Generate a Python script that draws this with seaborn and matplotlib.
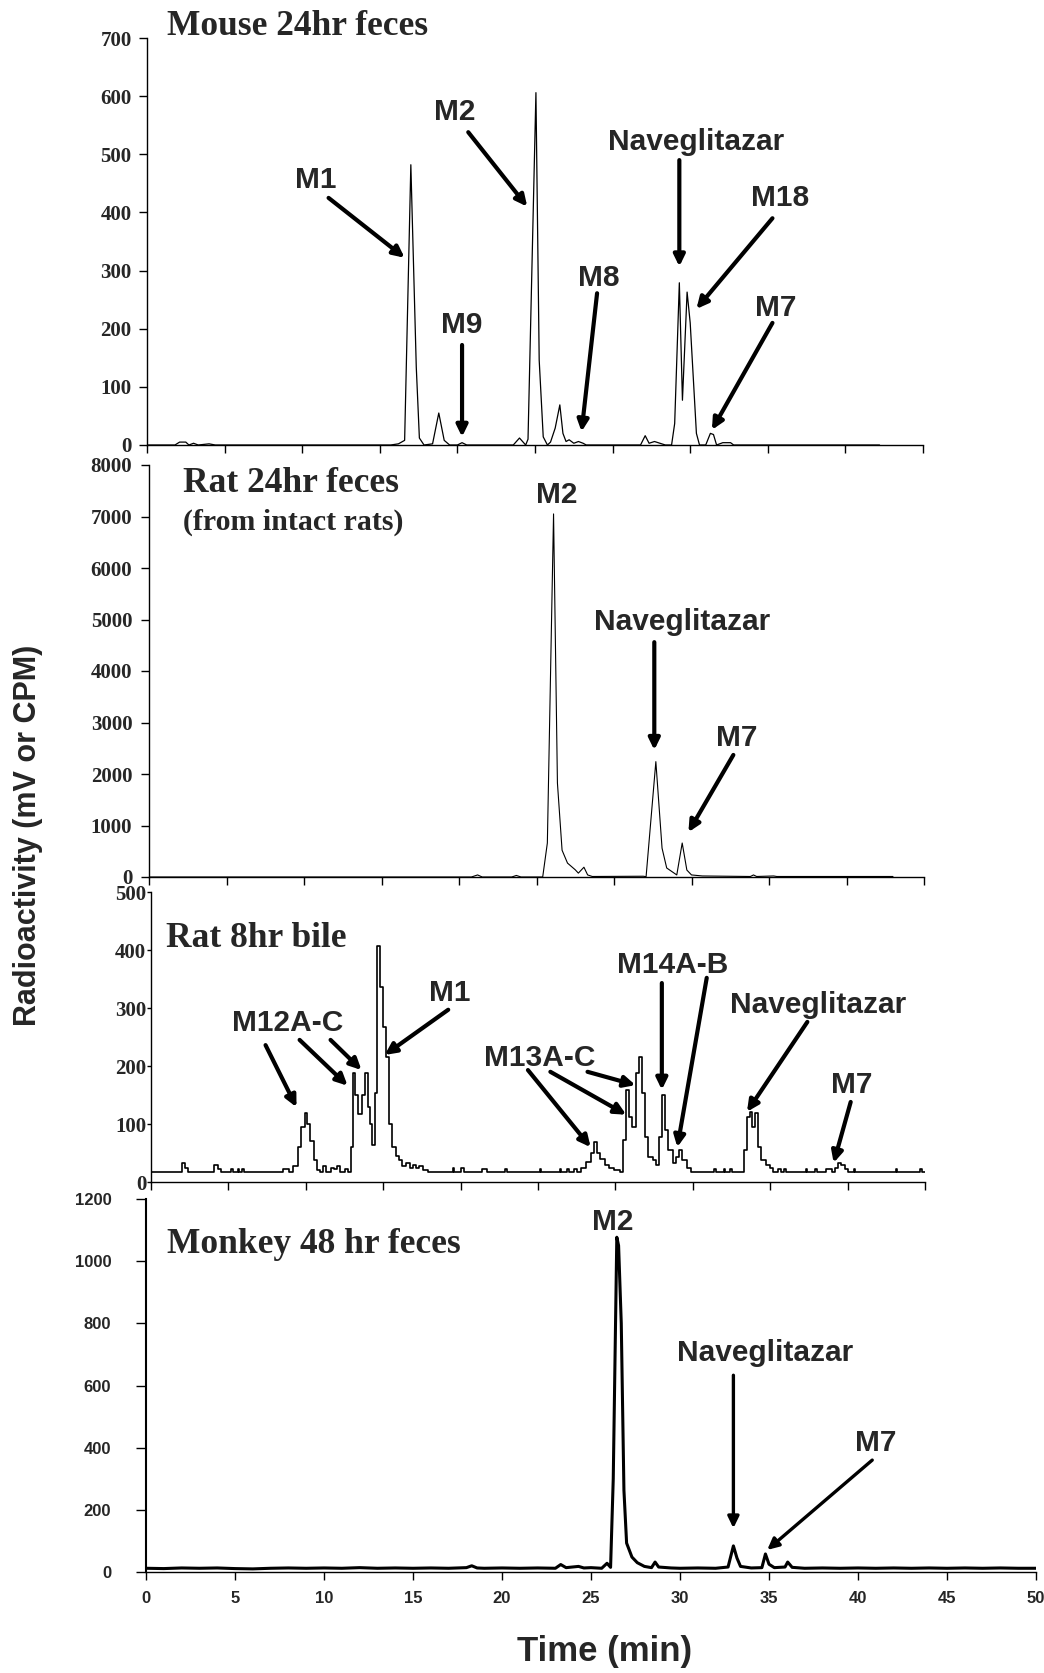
import matplotlib
matplotlib.use("Agg")
import matplotlib.pyplot as plt
import seaborn as sns

# --- data (time in min, radioactivity) ---
mouse_t = [0, 1.8, 2.1, 2.5, 2.7, 3.0, 3.3, 4.0, 4.4,
           15.7, 16.2, 16.6, 17.0, 17.35, 17.55, 17.85,
           18.4, 18.8, 19.15, 19.5, 20.0, 20.3, 20.6,
           23.6, 24.0, 24.4, 24.55, 25.06, 25.27, 25.53, 25.8,
           26.0, 26.3, 26.6, 26.8, 27.0, 27.2, 27.5, 27.8, 28.1, 28.3,
           31.8, 32.1, 32.35, 32.7, 33.05, 33.4,
           33.8, 34.0, 34.3, 34.5, 34.8, 35.0, 35.4, 35.6,
           36.0, 36.3, 36.5, 36.7, 37.1, 37.6, 37.8, 47.2]
mouse_v = [0, 0, 5, 5, 0, 3, 0, 2, 0,
           0, 2, 8, 482, 134, 12, 0,
           2, 55, 8, 0, 0, 4, 0,
           0, 12, 0, 10, 606, 146, 14, 0,
           5, 29, 69, 20, 6, 9, 3, 6, 3, 0,
           0, 16, 3, 6, 3, 0,
           0, 37, 279, 77, 263, 210, 20, 0,
           0, 20, 18, 0, 4, 4, 0, 0]

rat_t = [0, 20.8, 21.2, 21.5, 23.4, 23.7, 24.0,
         25.4, 25.7, 26.1, 26.35, 26.65, 27.0, 27.5, 27.7,
         28.06, 28.3, 28.6, 31.9, 32.07, 32.7, 33.1, 33.4,
         34.05, 34.4, 34.7, 35.0, 35.7, 38.8, 39.0, 39.2, 40.3, 40.5, 48.0]
rat_v = [0, 0, 40, 0, 0, 30, 0,
         0, 660, 7050, 1825, 520, 270, 140, 75,
         190, 40, 10, 15, 5, 2240, 560, 175,
         40, 660, 135, 40, 20, 10, 40, 10, 20, 10, 10]

bile_t = [0, 1.8, 2.0, 2.2, 2.4, 4.0, 4.1, 4.3, 4.5, 5.2,
          5.3, 5.6, 5.7, 5.9, 6.0, 8.3, 8.5, 8.9, 9.2, 9.5,
          9.7, 9.95, 10.1, 10.3, 10.5, 10.7, 10.9, 11.1, 11.3, 11.6,
          11.8, 12.0, 12.2, 12.5, 12.7, 12.9, 13.05, 13.2, 13.4, 13.6,
          13.8, 14.0, 14.15, 14.3, 14.45, 14.6, 14.8, 15.0, 15.2, 15.4,
          15.6, 15.8, 16.0, 16.2, 16.5, 16.7, 16.9, 17.1, 17.3, 17.6,
          17.9, 19.4, 19.5, 19.6, 20.0, 20.2, 21.4, 21.7, 22.9, 23.0,
          25.0, 25.1, 25.2, 26.4, 26.5, 26.9, 27.0, 27.3, 27.5, 27.8,
          28.1, 28.4, 28.6, 28.8, 29.0, 29.3, 29.6, 29.9, 30.3, 30.5,
          30.7, 30.9, 31.1, 31.3, 31.5, 31.7, 31.9, 32.1, 32.4, 32.6,
          32.8, 33.0, 33.2, 33.4, 33.7, 33.9, 34.1, 34.3, 34.6, 34.9,
          36.3, 36.4, 36.5, 37.0, 37.1, 37.4, 37.5, 38.1, 38.3, 38.5,
          38.7, 38.85, 39.0, 39.2, 39.4, 39.7, 40.0, 40.2, 40.5, 40.7,
          40.9, 41.0, 42.3, 42.4, 42.9, 43.0, 43.6, 43.8, 44.0, 44.2,
          44.4, 44.6, 44.8, 45.0, 45.4, 45.5, 48.1, 48.2, 49.7, 49.8,
          50.0]
bile_v = [17, 17, 33, 25, 17, 17, 30, 22, 17, 22,
          17, 22, 17, 22, 17, 17, 22, 17, 28, 60,
          95, 119, 100, 70, 38, 20, 17, 27, 17, 25,
          22, 27, 17, 22, 17, 60, 188, 150, 118, 150,
          188, 130, 100, 63, 153, 407, 336, 267, 215, 100,
          60, 45, 38, 28, 32, 25, 30, 24, 28, 20,
          17, 17, 25, 17, 25, 17, 22, 17, 22, 17,
          17, 22, 17, 22, 17, 22, 17, 22, 17, 25,
          35, 50, 69, 50, 40, 30, 25, 20, 17, 72,
          159, 112, 95, 188, 215, 153, 78, 43, 38, 30,
          78, 150, 90, 55, 33, 43, 55, 38, 24, 17,
          17, 22, 17, 22, 17, 22, 17, 17, 55, 112,
          121, 95, 119, 60, 38, 30, 25, 17, 22, 17,
          22, 17, 22, 17, 22, 17, 22, 22, 17, 25,
          33, 30, 22, 17, 22, 17, 22, 17, 22, 17,
          17]

monkey_t = [0, 1, 2, 3, 4, 5, 6, 7, 8, 9,
            10, 11, 12, 13, 14, 15, 16, 17, 18, 18.3,
            18.6, 19, 20, 21, 22, 23, 23.3, 23.6, 24.3, 24.6,
            25.0, 25.6, 25.9, 26.1, 26.25, 26.45, 26.55, 26.7, 26.85, 27.0,
            27.3, 27.6, 28.0, 28.4, 28.6, 28.8, 29.5, 30, 31, 32,
            32.7, 32.85, 33.0, 33.2, 33.4, 34.0, 34.6, 34.8, 35.0, 35.3,
            35.9, 36.05, 36.3, 37, 38, 39, 40, 41, 42, 43,
            44, 45, 46, 47, 48, 49, 50]
monkey_v = [12, 11, 13, 12, 13, 11, 10, 12, 13, 12,
            13, 12, 14, 12, 13, 12, 13, 12, 14, 20,
            13, 12, 13, 12, 13, 12, 24, 14, 18, 13,
            14, 12, 28, 15, 300, 1077, 1050, 800, 263, 93,
            48, 30, 18, 14, 32, 16, 13, 12, 13, 12,
            16, 50, 84, 45, 18, 13, 14, 58, 25, 14,
            16, 32, 15, 12, 13, 12, 13, 12, 13, 12,
            13, 12, 13, 12, 13, 12, 12]

SERIF = "Liberation Serif"
SANS = "Liberation Sans"

sns.set_style("ticks")
plt.rcParams["font.family"] = [SANS, "DejaVu Sans"]

W, H = 1044, 1673
fig = plt.figure(figsize=(W / 100, H / 100), dpi=100)


def make_axes(left, right, top, bottom):
    ax = fig.add_axes([left / W, 1 - bottom / H, (right - left) / W, (bottom - top) / H])
    ax.set_facecolor("none")
    return ax


def style(ax, ymax, ystep, serif=True, ylen=6, ypad=5):
    ax.set_xlim(0, 50)
    ax.set_ylim(0, ymax)
    sns.despine(ax=ax)
    for s in ("left", "bottom"):
        ax.spines[s].set_color("black")
        ax.spines[s].set_linewidth(1.0)
    yt = list(range(0, ymax + 1, ystep))
    if serif:
        ax.set_yticks(yt, labels=[str(v) for v in yt], fontfamily=SERIF,
                      fontweight="bold", fontsize=15)
        ax.set_xticks(range(0, 51, 5))
        ax.tick_params(axis="x", labelbottom=False)
    else:
        ax.set_yticks(yt, labels=[str(v) for v in yt], fontfamily=SANS,
                      fontweight="bold", fontsize=12)
        xt = list(range(0, 51, 5))
        ax.set_xticks(xt, labels=[str(v) for v in xt], fontfamily=SANS,
                      fontweight="bold", fontsize=12)
    ax.tick_params(axis="y", direction="out", length=ylen, width=1, pad=ypad, color="black")
    ax.tick_params(axis="x", direction="out", length=6, width=1, pad=8, color="black")
    ax.set_xlabel("")
    ax.set_ylabel("")


def title(ax, x, y, text, size=25.5):
    ax.text(x, y, text, ha="left", va="center", fontfamily=SERIF,
            fontweight="bold", fontsize=size)


def tag(ax, text, pos, tail=None, head=None, lw=3.0):
    ax.text(pos[0], pos[1], text, ha="center", va="center", fontfamily=SANS,
            fontweight="bold", fontsize=21.5)
    if tail is not None:
        ax.annotate("", xy=head, xytext=tail,
                    arrowprops=dict(arrowstyle="-|>,head_length=0.45,head_width=0.22",
                                    mutation_scale=15, lw=lw, color="black",
                                    shrinkA=0, shrinkB=0))


# Mouse 24hr feces
ax1 = make_axes(147, 923, 38, 445)
sns.lineplot(x=mouse_t, y=mouse_v, ax=ax1, color="black", lw=0.9)
style(ax1, 700, 100)
title(ax1, 1.3, 719, "Mouse 24hr feces")
tag(ax1, "M1", (10.9, 456), (11.7, 425), (16.6, 322))
tag(ax1, "M2", (19.8, 573), (20.7, 538), (24.5, 410))
tag(ax1, "M9", (20.3, 206), (20.3, 172), (20.3, 14))
tag(ax1, "M8", (29.1, 287), (29.0, 261), (28.0, 23))
tag(ax1, "Naveglitazar", (35.4, 521), (34.3, 490), (34.3, 307))
tag(ax1, "M18", (40.8, 425), (40.3, 390), (35.4, 234))
tag(ax1, "M7", (40.5, 235), (40.3, 210), (36.4, 26))

# Rat 24hr feces
ax2 = make_axes(149, 924, 465, 877)
sns.lineplot(x=rat_t, y=rat_v, ax=ax2, color="black", lw=0.8)
style(ax2, 8000, 1000, ypad=6)
title(ax2, 2.2, 7632, "Rat 24hr feces")
title(ax2, 2.2, 6892, "(from intact rats)", size=21.5)
tag(ax2, "M2", (26.3, 7420))
tag(ax2, "Naveglitazar", (34.4, 4950), (32.6, 4560), (32.6, 2465))
tag(ax2, "M7", (37.9, 2700), (37.7, 2370), (34.8, 870))

# Rat 8hr bile
ax3 = make_axes(151, 925, 892, 1182)
sns.lineplot(x=bile_t, y=bile_v, ax=ax3, color="black", lw=1.2, drawstyle="steps-post")
style(ax3, 500, 100, ylen=3, ypad=0.5)
title(ax3, 1.0, 419, "Rat 8hr bile")
tag(ax3, "M12A-C", (8.8, 274), (7.4, 236), (9.4, 129))
tag(ax3, "", (9.6, 245), (9.6, 245), (12.7, 166))
tag(ax3, "", (11.6, 245), (11.6, 245), (13.6, 193))
tag(ax3, "M1", (19.3, 326), (19.2, 297), (15.1, 219))
tag(ax3, "M13A-C", (25.1, 214), (24.35, 193), (28.4, 60))
tag(ax3, "", (25.8, 190), (25.8, 190), (30.7, 116))
tag(ax3, "", (28.2, 190), (28.2, 190), (31.3, 167))
tag(ax3, "M14A-B", (33.7, 374), (33.0, 343), (33.0, 159))
tag(ax3, "", (35.9, 352), (35.9, 352), (34.0, 60))
tag(ax3, "Naveglitazar", (43.1, 305), (42.4, 276), (38.5, 121))
tag(ax3, "M7", (45.3, 167), (45.2, 138), (44.1, 33))

# Monkey 48 hr feces
ax4 = make_axes(146, 1036, 1199, 1572)
sns.lineplot(x=monkey_t, y=monkey_v, ax=ax4, color="black", lw=2.2)
style(ax4, 1200, 200, serif=False, ylen=7, ypad=18)
ax4.spines["left"].set_linewidth(1.5)
title(ax4, 1.2, 1054, "Monkey 48 hr feces")
tag(ax4, "M2", (26.2, 1125))
tag(ax4, "Naveglitazar", (34.8, 704), (33.0, 633), (33.0, 141), lw=2.4)
tag(ax4, "M7", (41.0, 415), (40.8, 360), (34.9, 71), lw=2.4)

fig.text(605 / W, 1 - 1652 / H, "Time (min)", ha="center", va="center",
         fontfamily=SANS, fontweight="bold", fontsize=25)
fig.text(28 / W, 1 - 835 / H, "Radioactivity (mV or CPM)", ha="center", va="center",
         rotation=90, fontfamily=SANS, fontweight="bold", fontsize=22)

fig.savefig("out.png", dpi=100, facecolor="white")
